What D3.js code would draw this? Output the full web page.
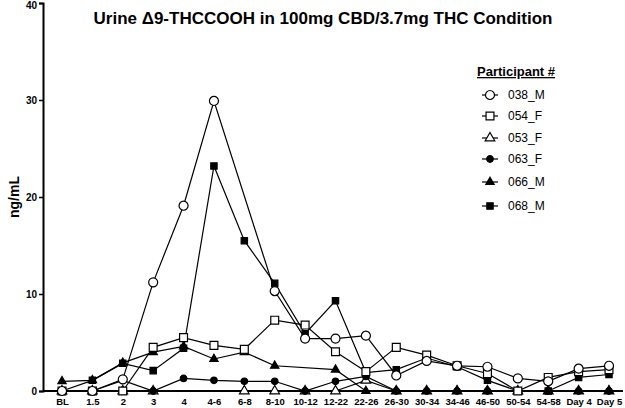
<!DOCTYPE html>
<html>
<head>
<meta charset="utf-8">
<script src="https://cdn.jsdelivr.net/npm/d3@7"></script>
<style>
  body { margin: 0; background: #fff; }
  text { font-family: "Liberation Sans", Arial, sans-serif; fill: #000; }
</style>
</head>
<body>
<div id="chart"></div>
<script>
const categories = ["BL", "1.5", "2", "3", "4", "4-6", "6-8", "8-10", "10-12", "12-22",
    "22-26", "26-30", "30-34", "34-46", "46-50", "50-54", "54-58", "Day 4", "Day 5"];

const p038M = [0, 0, 1.2, 11.2, 19.1, 29.9, null, 10.3, 5.4, 5.4, 5.7, 1.6, 3.1, 2.6, 2.5, 1.3, 1.0, 2.3, 2.6];
const p054F = [0, 0, 0, 4.5, 5.5, 4.7, 4.3, 7.3, 6.8, 4.05, 2.0, 4.5, 3.7, 2.6, 1.8, 0, 1.4, 2.0, 2.2];
const p053F = [0, 0, 0, 0, null, null, 0, 0, 0, 0, 1.1, 0, 0, 0, 0, 0, 0, 0, 0];
const p063F = [0, 0, 1.1, 0, 1.3, 1.1, 1.0, 1.0, 0, 1.0, 1.5, 0, 0, 0, 0, 0, 0, 0, 0];
const p066M = [1.0, 1.1, 2.9, 4.0, 4.6, 3.3, 4.0, 2.6, null, 2.2, 0, 0, 0, 0, 0, 0, 0, 0, 0];
const p068M = [0, 1.1, 2.85, 2.1, 4.4, 23.2, 15.5, 11.1, 5.9, 9.3, 1.9, 2.2, 3.4, 2.5, 1.1, 0, 0, 1.4, 1.7];

const yTicks = [0, 10, 20, 30, 40];

// legend order
const series = [
    { name: "038_M", values: p038M, shape: d3.symbolCircle, size: 64, fill: "#fff" },
    { name: "054_F", values: p054F, shape: d3.symbolSquare, size: 62, fill: "#fff" },
    { name: "053_F", values: p053F, shape: d3.symbolTriangle, size: 40, fill: "#fff" },
    { name: "063_F", values: p063F, shape: d3.symbolCircle, size: 34, fill: "#000" },
    { name: "066_M", values: p066M, shape: d3.symbolTriangle, size: 30, fill: "#000" },
    { name: "068_M", values: p068M, shape: d3.symbolSquare, size: 40, fill: "#000" }
];

// bottom -> top drawing order
const drawOrder = ["053_F", "063_F", "066_M", "068_M", "054_F", "038_M"];

const svg = d3.select("#chart")
    .append("svg")
    .attr("width", 625)
    .attr("height", 408);

const x = d3.scalePoint()
    .domain(categories)
    .range([62, 609]);

const y = d3.scaleLinear()
    .domain([0, 40])
    .range([391, 3]);

// y axis
const yAxisGroup = svg.append("g")
    .attr("transform", "translate(43, 0)")
    .call(d3.axisLeft(y).tickValues(yTicks).tickSize(4).tickPadding(2));
yAxisGroup.select(".domain").attr("stroke", "#000").attr("stroke-width", 2);
yAxisGroup.selectAll(".tick line").attr("stroke-width", 1.5);
yAxisGroup.selectAll("text")
    .style("font-size", "10px")
    .style("font-weight", "bold")
    .style("font-family", "'Liberation Sans', Arial, sans-serif")
    .attr("dy", d => d === 40 ? "0.55em" : "0.32em");

// x axis
const xAxisGroup = svg.append("g")
    .attr("transform", "translate(0, 391)")
    .call(d3.axisBottom(x).tickSize(0).tickPadding(7));
xAxisGroup.select(".domain").attr("d", "M43,0H623").attr("stroke", "#000").attr("stroke-width", 2);
xAxisGroup.selectAll("text")
    .style("font-size", "9.5px")
    .style("font-weight", "bold")
    .style("font-family", "'Liberation Sans', Arial, sans-serif");

svg.append("text")
    .attr("transform", "translate(19, 197) rotate(-90)")
    .attr("text-anchor", "middle")
    .style("font-size", "14px")
    .style("font-weight", "bold")
    .text("ng/mL");

svg.append("text")
    .attr("x", 323)
    .attr("y", 24)
    .attr("text-anchor", "middle")
    .style("font-size", "17px")
    .style("font-weight", "bold")
    .text("Urine \u03949-THCCOOH in 100mg CBD/3.7mg THC Condition");

const line = d3.line()
    .x(d => x(d.cat))
    .y(d => y(d.value));

const plot = svg.append("g");

drawOrder.forEach(name => {
    const s = series.find(d => d.name === name);
    const pts = categories
        .map((c, i) => ({ cat: c, value: s.values[i] }))
        .filter(d => d.value !== null);

    const g = plot.append("g");
    g.append("path")
        .datum(pts)
        .attr("fill", "none")
        .attr("stroke", "#000")
        .attr("stroke-width", 1.2)
        .attr("d", line);

    g.selectAll("path.pt")
        .data(pts)
        .enter()
        .append("path")
        .attr("class", "pt")
        .attr("transform", d => `translate(${x(d.cat)}, ${y(d.value)})`)
        .attr("d", d3.symbol().type(s.shape).size(s.size))
        .attr("fill", s.fill)
        .attr("stroke", "#000")
        .attr("stroke-width", 1.2);
});

// legend
const legend = svg.append("g");
legend.append("text")
    .attr("x", 477)
    .attr("y", 76)
    .style("font-size", "13px")
    .style("font-weight", "bold")
    .style("text-decoration", "underline")
    .text("Participant #");

const legendY = [95, 116, 138, 159, 182, 206];

series.forEach((s, i) => {
    const row = legend.append("g")
        .attr("transform", `translate(490, ${legendY[i]})`);
    row.append("line")
        .attr("x1", -8).attr("x2", 8)
        .attr("stroke", "#000")
        .attr("stroke-width", 1.2);
    row.append("path")
        .attr("d", d3.symbol().type(s.shape).size(s.size))
        .attr("fill", s.fill)
        .attr("stroke", "#000")
        .attr("stroke-width", 1.2);
    row.append("text")
        .attr("x", 18)
        .attr("dy", "0.35em")
        .style("font-size", "12px")
        .text(s.name);
});
</script>
</body>
</html>
